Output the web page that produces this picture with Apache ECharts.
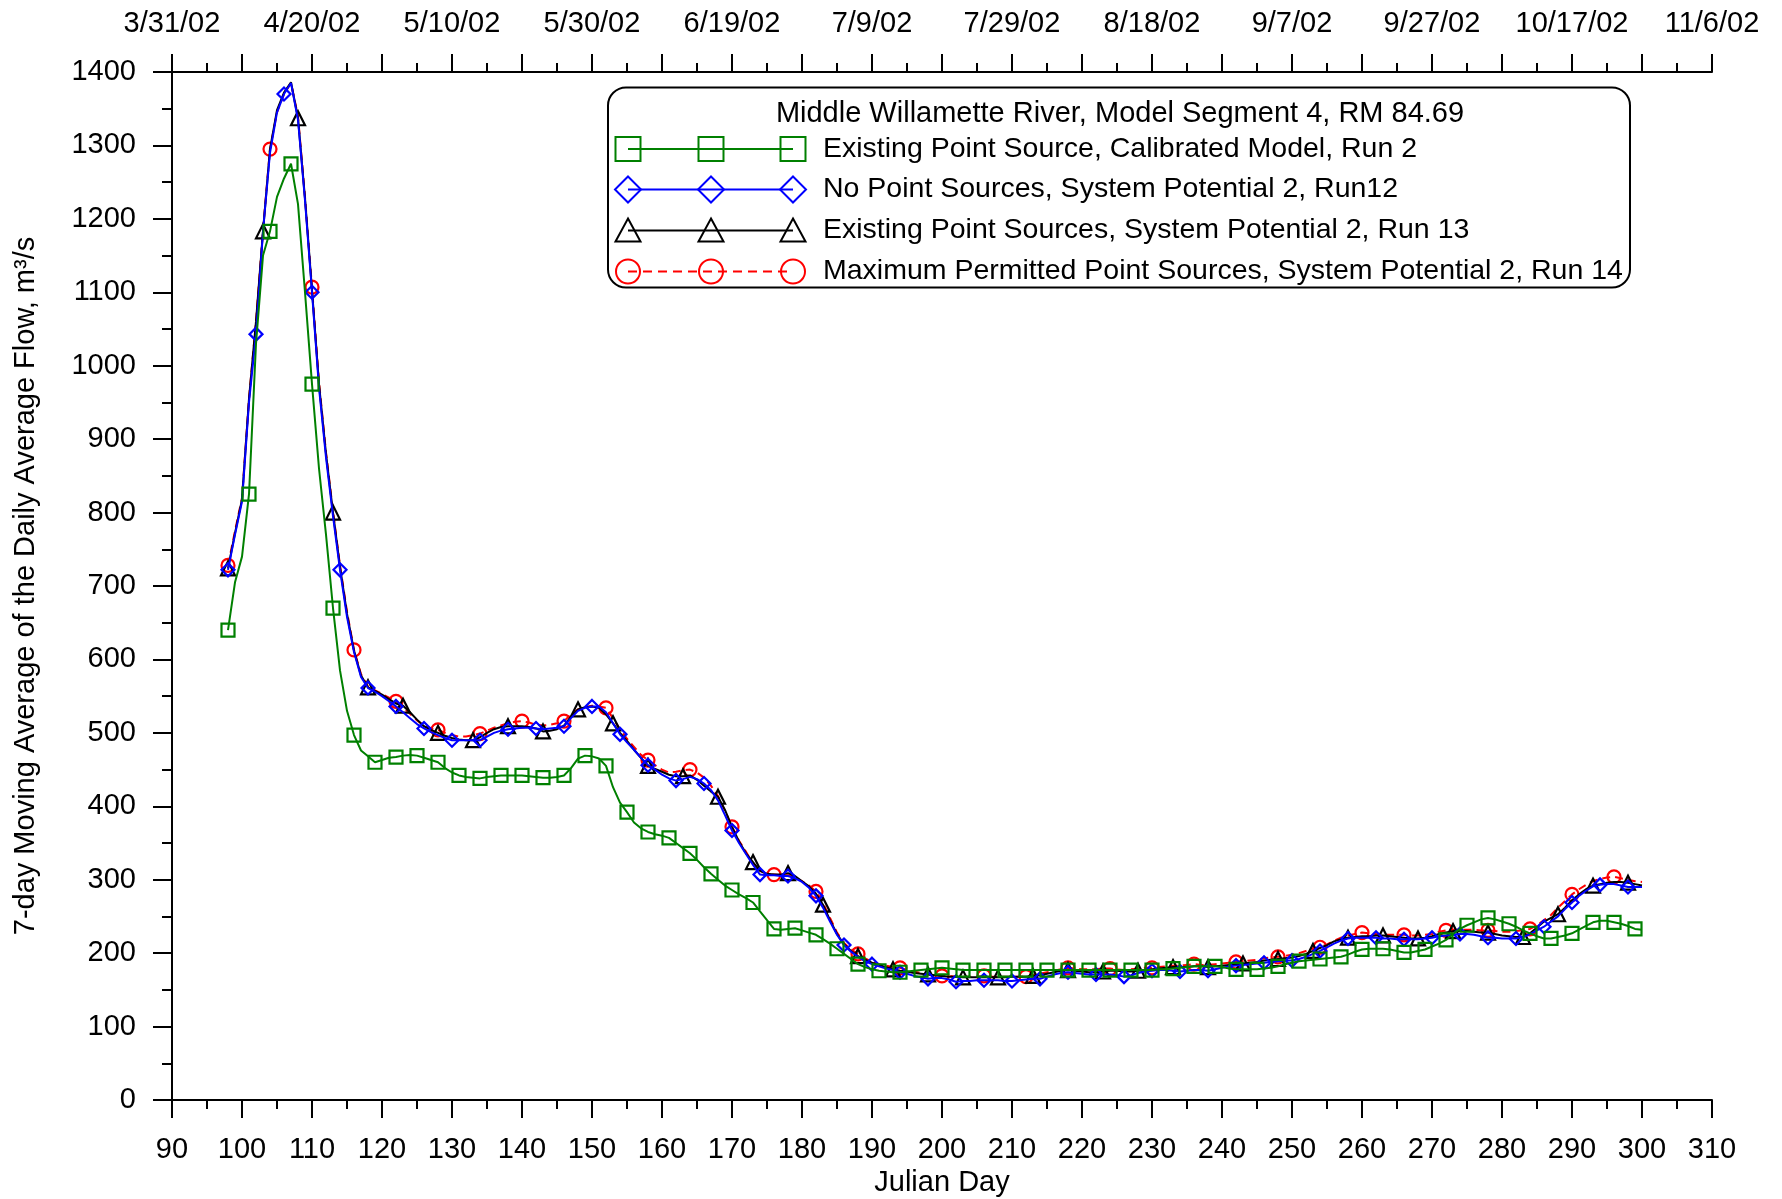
<!DOCTYPE html>
<html><head><meta charset="utf-8">
<script src="https://cdn.jsdelivr.net/npm/echarts@6/dist/echarts.min.js"></script>
<style>html,body{margin:0;padding:0;background:#fff}#c{width:1782px;height:1199px}</style>
</head><body><div id="c"></div>
<script>
// ---- data (7-day moving average flow, m3/s, daily from Julian day 98 to 300) ----
const firstDay = 98;

const existingCalibrated = [
  640, 705, 740, 825, 1030, 1150, 1183, 1230, 1255, 1275,
  1220, 1100, 975, 860, 770, 670, 585, 530, 497, 476,
  468, 460, 463, 466, 467, 469, 470, 469, 466, 463,
  460, 452, 446, 442, 440, 439, 438, 440, 441, 442,
  442, 442, 442, 441, 440, 439, 439, 440, 442, 452,
  465, 469, 468, 465, 455, 426, 405, 392, 378, 370,
  365, 362, 360, 357, 350, 343, 336, 327, 317, 308,
  300, 292, 286, 280, 275, 269, 257, 245, 233, 232,
  233, 234, 231, 228, 225, 219, 213, 206, 199, 192,
  185, 181, 178, 176, 175, 174, 174, 175, 176, 177,
  178, 179, 180, 179, 178, 177, 177, 177, 177, 177,
  177, 177, 177, 177, 177, 177, 177, 177, 177, 177,
  177, 177, 177, 177, 177, 177, 177, 177, 177, 177,
  177, 177, 177, 178, 178, 179, 180, 181, 182, 182,
  182, 182, 181, 179, 178, 178, 178, 178, 179, 180,
  182, 185, 187, 189, 190, 191, 192, 193, 194, 195,
  198, 202, 205, 206, 206, 206, 205, 203, 201, 201,
  203, 205, 209, 213, 218, 226, 233, 238, 242, 246,
  248, 246, 243, 240, 236, 231, 227, 223, 220, 220,
  222, 224, 227, 232, 237, 242, 244, 244, 242, 240,
  237, 233, 232
];

const noPointSources = [
  722, 770, 815, 950, 1043, 1183, 1290, 1345, 1370, 1385,
  1335, 1225, 1100, 970, 875, 795, 722, 658, 610, 576,
  561, 556, 550, 543, 536, 528, 520, 512, 506, 501,
  497, 493, 490, 490, 490, 490, 490, 495, 500, 503,
  505, 506, 507, 507, 506, 505, 506, 507, 509, 520,
  530, 534, 536, 536, 528, 513, 498, 487, 477, 466,
  456, 450, 443, 438, 435, 437, 440, 437, 431, 422,
  408, 388, 367, 350, 335, 320, 307, 306, 306, 305,
  305, 302, 297, 289, 278, 262, 243, 225, 211, 202,
  195, 189, 185, 182, 179, 177, 174, 172, 169, 167,
  165, 166, 166, 164, 161, 162, 162, 163, 163, 163,
  163, 162, 162, 163, 164, 165, 165, 168, 171, 173,
  174, 173, 172, 171, 171, 171, 171, 170, 168, 170,
  173, 175, 176, 177, 177, 176, 175, 176, 177, 177,
  176, 178, 180, 182, 183, 184, 185, 186, 187, 188,
  189, 190, 190, 192, 195, 199, 203, 208, 213, 217,
  220, 221, 221, 221, 221, 220, 220, 219, 219, 219,
  219, 220, 221, 223, 224, 225, 226, 226, 225, 223,
  221, 221, 220, 220, 220, 222, 226, 231, 236, 243,
  250, 260, 269, 278, 285, 291, 293, 294, 294, 292,
  290, 290, 290
];

const existingSP2 = [
  724, 772, 818, 955, 1060, 1183, 1295, 1348, 1372, 1386,
  1337, 1228, 1103, 975, 880, 800, 726, 662, 612, 578,
  562, 557, 552, 546, 540, 537, 528, 518, 509, 504,
  500, 496, 493, 491, 490, 490, 494, 500, 505, 508,
  509, 509, 509, 508, 506, 502, 503, 505, 510, 522,
  532, 535, 536, 534, 525, 513, 500, 489, 477, 466,
  455, 451, 447, 443, 441, 441, 442, 436, 428, 420,
  413, 395, 372, 352, 336, 324, 312, 308, 307, 307,
  309, 305, 298, 291, 281, 266, 245, 226, 212, 203,
  196, 191, 187, 184, 181, 178, 176, 175, 173, 172,
  171, 170, 169, 168, 168, 167, 167, 167, 167, 167,
  167, 167, 168, 168, 168, 169, 170, 172, 174, 176,
  177, 176, 175, 174, 174, 175, 176, 176, 175, 175,
  176, 177, 178, 179, 180, 181, 181, 181, 182, 182,
  181, 182, 183, 184, 185, 186, 187, 188, 190, 191,
  192, 193, 194, 196, 199, 203, 207, 211, 216, 219,
  221, 222, 223, 223, 224, 224, 223, 222, 221, 220,
  220, 221, 223, 226, 228, 230, 230, 230, 229, 228,
  228, 226, 224, 223, 222, 222, 227, 235, 243, 248,
  253, 262, 272, 280, 287, 292, 294, 296, 297, 297,
  296, 294, 292
];

const maxPermittedSP2 = [
  728, 775, 820, 955, 1060, 1185, 1295, 1345, 1370, 1385,
  1340, 1230, 1107, 978, 882, 802, 728, 665, 613, 580,
  563, 558, 553, 548, 543, 535, 526, 517, 510, 506,
  504, 500, 497, 495, 495, 497, 499, 503, 507, 510,
  513, 515, 516, 514, 511, 510, 511, 513, 516, 525,
  532, 535, 537, 536, 534, 520, 505, 492, 481, 470,
  463, 456, 450, 446, 447, 449, 450, 446, 439, 428,
  414, 394, 372, 353, 338, 322, 312, 308, 307, 306,
  306, 303, 298, 292, 284, 268, 248, 228, 214, 205,
  199, 193, 188, 185, 183, 181, 180, 177, 175, 173,
  171, 170, 169, 169, 168, 168, 168, 168, 169, 168,
  168, 168, 168, 168, 168, 170, 172, 174, 176, 178,
  180, 179, 178, 178, 178, 179, 179, 178, 177, 178,
  179, 180, 180, 181, 182, 183, 183, 184, 185, 184,
  184, 185, 186, 187, 188, 189, 190, 191, 193, 194,
  195, 196, 198, 200, 203, 206, 208, 212, 217, 221,
  224, 226, 228, 227, 226, 225, 225, 225, 225, 224,
  224, 225, 226, 229, 231, 232, 232, 232, 232, 231,
  231, 230, 229, 229, 230, 231, 233, 238, 245, 252,
  262, 271, 280, 287, 293, 298, 301, 303, 304, 302,
  300, 298, 297
];

// top axis (calendar dates) tick labels
const dateTickDays = [90, 110, 130, 150, 170, 190, 210, 230, 250, 270, 290, 310];
const dateTickLabels = ['3/31/02', '4/20/02', '5/10/02', '5/30/02', '6/19/02', '7/9/02',
  '7/29/02', '8/18/02', '9/7/02', '9/27/02', '10/17/02', '11/6/02'];

const legendTitle = 'Middle Willamette River, Model Segment 4, RM 84.69';
const seriesNames = [
  'Existing Point Source, Calibrated Model, Run 2',
  'No Point Sources, System Potential 2, Run12',
  'Existing Point Sources, System Potential 2, Run 13',
  'Maximum Permitted Point Sources, System Potential 2, Run 14'
];

// ---- styling ----
const FONT = 'Liberation Sans, Arial, sans-serif';
const FS = 29;
const LFS = 28.5;
const GREEN = '#008000', BLUE = '#0000ff', BLACK = '#000000', RED = '#ff0000';

function toPairs(arr) { return arr.map((v, i) => [firstDay + i, v]); }

function makeSeries(name, values, color, symbol, size, every, dashed, z) {
  return {
    name: name, type: 'line', data: toPairs(values), z: z,
    showAllSymbol: true,
    symbol: function (v, p) { return p.dataIndex % every === 0 ? symbol : 'none'; },
    symbolSize: size,
    lineStyle: { color: color, width: 2, type: dashed ? [8, 5] : 'solid' },
    itemStyle: { color: 'rgba(0,0,0,0)', borderColor: color, borderWidth: 2.2 },
    emphasis: { disabled: true },
    animation: false
  };
}

// legend drawn as graphics
const LX = [628, 711, 793];
const rowY = [149, 189.5, 230.5, 271.5];
function legendMarker(kind, cx, cy, color) {
  const st = { fill: 'none', stroke: color, lineWidth: 2 };
  if (kind === 'rect') return { type: 'rect', shape: { x: cx - 12.5, y: cy - 12, width: 25, height: 24 }, style: st };
  if (kind === 'diamond') return { type: 'polygon', shape: { points: [[cx, cy - 13], [cx + 13, cy], [cx, cy + 13], [cx - 13, cy]] }, style: st };
  if (kind === 'triangle') return { type: 'polygon', shape: { points: [[cx, cy - 12], [cx + 12.5, cy + 11], [cx - 12.5, cy + 11]] }, style: st };
  return { type: 'circle', shape: { cx: cx, cy: cy, r: 12 }, style: st };
}
const legendDefs = [
  { kind: 'rect', color: GREEN, dashed: false },
  { kind: 'diamond', color: BLUE, dashed: false },
  { kind: 'triangle', color: BLACK, dashed: false },
  { kind: 'circle', color: RED, dashed: true }
];
const legendChildren = [
  { type: 'rect', shape: { x: 608, y: 87.5, width: 1022, height: 200, r: 18 }, style: { fill: '#fff', stroke: '#000', lineWidth: 2 } },
  { type: 'text', x: 1120, y: 113.5, style: { text: legendTitle, font: FS + 'px ' + FONT, fill: '#000', align: 'center', verticalAlign: 'middle' } }
];
legendDefs.forEach((d, i) => {
  const cy = rowY[i];
  legendChildren.push({ type: 'line', shape: { x1: LX[0], y1: cy, x2: LX[2], y2: cy },
    style: { stroke: d.color, lineWidth: 2, lineDash: d.dashed ? [9, 6] : null } });
  LX.forEach(cx => legendChildren.push(legendMarker(d.kind, cx, cy, d.color)));
  legendChildren.push({ type: 'text', x: 823, y: cy, style: { text: seriesNames[i], font: LFS + 'px ' + FONT, fill: '#000', align: 'left', verticalAlign: 'middle' } });
});

const axisCommon = {
  type: 'value', min: 90, max: 310, interval: 10,
  axisLine: { show: true, onZero: false, lineStyle: { color: '#000', width: 2 } },
  axisTick: { show: true, inside: false, length: 18, lineStyle: { color: '#000', width: 2 } },
  minorTick: { show: true, splitNumber: 2, length: 9, lineStyle: { color: '#000', width: 2 } },
  splitLine: { show: false }, minorSplitLine: { show: false }
};

const chart = echarts.init(document.getElementById('c'), null, { renderer: 'canvas' });
chart.setOption({
  backgroundColor: '#fff',
  animation: false,
  textStyle: { fontFamily: FONT },
  grid: { left: 172, right: 70, top: 72, bottom: 99, containLabel: false, outerBoundsMode: 'none' },
  xAxis: [
    Object.assign({}, axisCommon, {
      position: 'bottom',
      name: 'Julian Day', nameLocation: 'middle', nameGap: 68,
      nameTextStyle: { fontSize: FS, color: '#000', fontFamily: FONT },
      axisLabel: { margin: 35, fontSize: FS, color: '#000', fontFamily: FONT, hideOverlap: false,
        formatter: function (v) { return String(v); } }
    }),
    Object.assign({}, axisCommon, {
      position: 'top',
      axisLabel: { margin: 34, fontSize: FS, color: '#000', fontFamily: FONT, hideOverlap: false,
        formatter: function (v) { const i = dateTickDays.indexOf(v); return i >= 0 ? dateTickLabels[i] : ''; } }
    })
  ],
  yAxis: {
    type: 'value', min: 0, max: 1400, interval: 100,
    name: '7-day Moving Average of the Daily Average Flow, m³/s', nameLocation: 'middle', nameGap: 132,
    nameTextStyle: { fontSize: FS, color: '#000', fontFamily: FONT },
    axisLine: { show: true, onZero: false, lineStyle: { color: '#000', width: 2 } },
    axisTick: { show: true, inside: false, length: 19, lineStyle: { color: '#000', width: 2 } },
    minorTick: { show: true, splitNumber: 2, length: 10, lineStyle: { color: '#000', width: 2 } },
    axisLabel: { margin: 36, fontSize: FS, color: '#000', fontFamily: FONT,
      formatter: function (v) { return String(v); } },
    splitLine: { show: false }
  },
  series: [
    makeSeries(seriesNames[3], maxPermittedSP2, RED, 'circle', 13, 6, true, 2),
    makeSeries(seriesNames[2], existingSP2, BLACK, 'triangle', 14, 5, false, 3),
    makeSeries(seriesNames[1], noPointSources, BLUE, 'diamond', 13, 4, false, 4),
    makeSeries(seriesNames[0], existingCalibrated, GREEN, 'rect', 13, 3, false, 5)
  ],
  graphic: { elements: [{ type: 'group', z: 100, children: legendChildren }] }
});
</script>
</body></html>
